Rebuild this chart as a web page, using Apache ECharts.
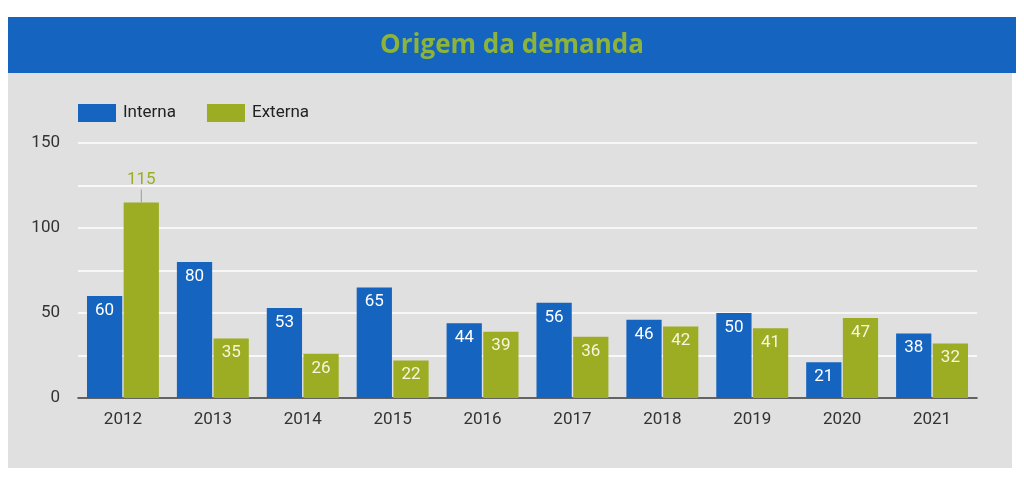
<!DOCTYPE html>
<html>
<head>
<meta charset="utf-8">
<script src="https://cdn.jsdelivr.net/npm/echarts@6/dist/echarts.min.js"></script>
<style>
html,body{margin:0;padding:0;background:#fff;}
#c{width:1024px;height:478px;}
</style>
</head>
<body>
<div id="c"></div>
<script>
const categories = ['2012','2013','2014','2015','2016','2017','2018','2019','2020','2021'];
const interna = [60,80,53,65,44,56,46,50,21,38];
const externa = [115,35,26,22,39,36,42,41,47,32];
const seriesNames = ['Interna','Externa'];
const titleText = 'Origem da demanda';

const BLUE = '#1565c0';
const GREEN = '#9cad24';
const OUTSIDE_LIMIT = 100;

const chart = echarts.init(document.getElementById('c'), null, {renderer:'canvas'});

function externaData(vals){
  return vals.map(v => {
    if (v > OUTSIDE_LIMIT) {
      return {
        value: v,
        label: {
          position: 'top',
          distance: 0,
          formatter: '{v|{c}}\n{l|}',
          rich: {
            v: {color: GREEN, fontSize: 17, fontFamily: 'Roboto', lineHeight: 20, align: 'center'},
            l: {width: 1, height: 13, backgroundColor: '#9a9a9a', align: 'center'}
          }
        }
      };
    }
    return v;
  });
}

chart.setOption({
  backgroundColor: '#ffffff',
  animation: false,
  graphic: [
    {type:'rect', z:-10, shape:{x:8,y:72,width:1004,height:396}, style:{fill:'#e0e0e0'}},
    {type:'rect', z:-9, shape:{x:8,y:17,width:1008,height:56}, style:{fill:'#1565c0'}}
  ],
  title: {
    text: titleText,
    left: 'center',
    top: 33,
    padding: 0,
    textStyle: {color:'#8db43a', fontSize: 26, fontWeight: 'bold', fontFamily: 'Open Sans'}
  },
  legend: {
    left: 78, top: 104, padding: 0,
    icon: 'rect',
    itemWidth: 38, itemHeight: 18, itemGap: 31,
    textStyle: {fontSize: 17, color: '#222', fontFamily: 'Roboto', padding: [2, 0, 0, 2]},
    data: seriesNames
  },
  grid: {left: 78, right: 47, top: 143, bottom: 80},
  xAxis: {
    type: 'category',
    data: categories,
    axisTick: {show:false},
    axisLine: {lineStyle:{color:'#333', width:1.5}},
    axisLabel: {fontSize: 17, color:'#333', fontFamily:'Roboto', margin: 13}
  },
  yAxis: {
    type: 'value',
    min: 0, max: 150, interval: 50,
    axisLabel: {fontSize: 17, color:'#333', fontFamily:'Roboto', margin: 18},
    splitLine: {lineStyle:{color:'#ffffff', width:1.5}},
    minorTick: {show:false, splitNumber:2},
    minorSplitLine: {show:true, lineStyle:{color:'#ffffff', width:1.5}},
    axisLine: {show:false},
    axisTick: {show:false}
  },
  series: [
    {
      name: seriesNames[0], type: 'bar', data: interna,
      itemStyle: {color: BLUE},
      barCategoryGap: '20%', barGap: '4%',
      label: {show:true, position:'insideTop', distance:6, color:'#ffffff', fontSize:17, fontFamily:'Roboto'}
    },
    {
      name: seriesNames[1], type: 'bar', data: externaData(externa),
      itemStyle: {color: GREEN},
      barCategoryGap: '20%', barGap: '4%',
      label: {show:true, position:'insideTop', distance:6, color:'#f6f6dc', fontSize:17, fontFamily:'Roboto'}
    }
  ]
});
</script>
</body>
</html>
